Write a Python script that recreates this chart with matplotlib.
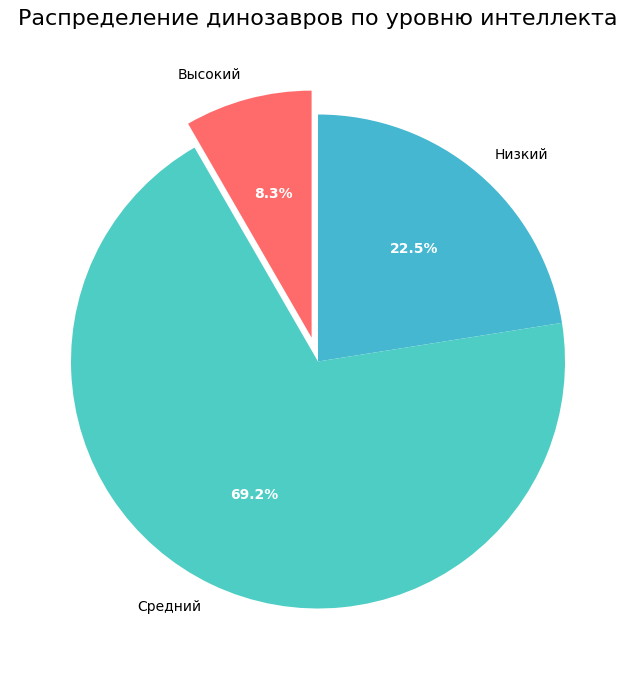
import matplotlib
matplotlib.use("Agg")
import matplotlib.pyplot as plt

# данные
labels = ["Низкий", "Средний", "Высокий"]
counts = [27, 83, 10]
colors = ["#45B7D1", "#4ECDC4", "#FF6B6B"]
explode = [0, 0, 0.1]

W, H = 636, 679
fig = plt.figure(figsize=(W / 100, H / 100), dpi=100)
# радиус ~247 px, центр (318, 361.5)
r = 247
lim = 1.28
side = 2 * lim * r
cx, cy = 318, H - 361.5
ax = fig.add_axes([(cx - side / 2) / W, (cy - side / 2) / H, side / W, side / H])
wedges, texts, autotexts = ax.pie(
    counts, labels=labels, colors=colors, explode=explode,
    autopct="%1.1f%%", startangle=90, counterclock=False,
)
for t in autotexts:
    t.set_color("white")
    t.set_fontweight("bold")
ax.set_xlim(-lim, lim)
ax.set_ylim(-lim, lim)
ax.set_aspect("equal")
fig.text(0.5, 1 - 19 / H, "Распределение динозавров по уровню интеллекта",
         fontsize=16, ha="center", va="center")
plt.savefig("out.png", dpi=100)
